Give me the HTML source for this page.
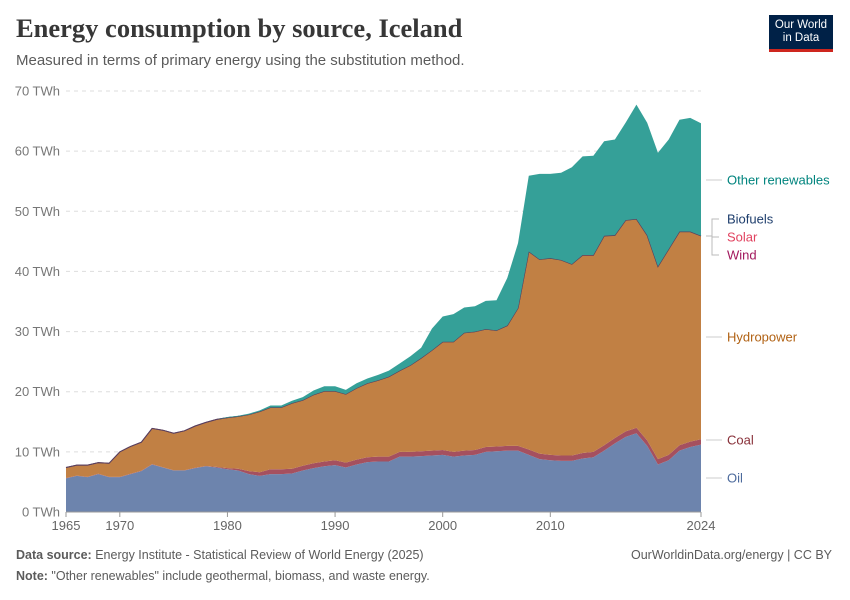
<!DOCTYPE html>
<html><head><meta charset="utf-8">
<style>
body{margin:0;background:#fff;font-family:"Liberation Sans",sans-serif;}
#wrap{position:relative;width:850px;height:600px;overflow:hidden;}
.t{position:absolute;white-space:nowrap;}
</style></head>
<body><div id="wrap">
<div class="t" style="left:16px;top:13px;font-family:'Liberation Serif',serif;font-weight:bold;font-size:26.5px;color:#373737;">Energy consumption by source, Iceland</div>
<div class="t" style="left:16px;top:52px;font-size:15px;color:#5b5b5b;">Measured in terms of primary energy using the substitution method.</div>
<div style="position:absolute;left:769px;top:15px;width:64px;height:37px;background:#002147;border-bottom:3px solid #ce261e;box-sizing:border-box;color:#fff;font-size:11.5px;line-height:13px;text-align:center;padding-top:4px;">Our World<br>in Data</div>
<svg id="chart" width="850" height="600" style="position:absolute;left:0;top:0;"></svg>
<div class="t" style="left:16px;top:548px;font-size:12.5px;color:#5b5b5b;"><b>Data source:</b> Energy Institute - Statistical Review of World Energy (2025)</div>
<div class="t" style="right:18px;top:548px;font-size:12.5px;color:#5b5b5b;">OurWorldinData.org/energy | CC BY</div>
<div class="t" style="left:16px;top:569px;font-size:12.5px;color:#5b5b5b;"><b>Note:</b> "Other renewables" include geothermal, biomass, and waste energy.</div>
</div>
<script>
const years=[];for(let y=1965;y<=2024;y++)years.push(y);
const oil=[5.6,6.0,5.8,6.3,5.8,5.8,6.3,6.8,7.9,7.4,6.9,6.9,7.3,7.6,7.4,7.1,6.9,6.3,6.0,6.3,6.3,6.4,6.9,7.3,7.6,7.8,7.4,7.9,8.3,8.4,8.4,9.2,9.2,9.3,9.4,9.5,9.2,9.4,9.5,10.0,10.1,10.2,10.2,9.5,8.8,8.6,8.5,8.5,8.9,9.1,10.2,11.4,12.5,13.1,11.0,7.9,8.6,10.2,10.8,11.2];
const coal=[0.05,0.05,0.05,0.05,0.05,0.05,0.05,0.05,0.05,0.05,0.05,0.05,0.05,0.05,0.1,0.2,0.3,0.5,0.6,0.8,0.8,0.8,0.8,0.8,0.8,0.8,0.8,0.8,0.8,0.8,0.8,0.8,0.8,0.8,0.8,0.8,0.8,0.8,0.8,0.8,0.8,0.8,0.8,0.9,0.9,0.9,0.9,0.9,0.9,0.9,0.9,0.9,0.9,0.9,0.9,0.9,0.9,0.9,0.9,0.9];
const hydro=[1.75,1.75,1.95,1.85,2.25,4.15,4.55,4.75,5.95,6.15,6.15,6.55,6.95,7.25,7.9,8.4,8.7,9.4,10.1,10.3,10.3,10.9,10.9,11.4,11.7,11.5,11.4,11.9,12.3,12.7,13.3,13.5,14.4,15.5,16.7,18.0,18.3,19.6,19.7,19.6,19.3,20.0,22.9,32.9,32.3,32.7,32.5,31.8,32.9,32.7,34.8,33.7,35.1,34.7,34.1,32.0,34.2,35.5,34.9,33.8];
const wind=[0,0,0,0,0,0,0,0,0,0,0,0,0,0,0,0,0,0,0,0,0,0,0,0,0,0,0,0,0,0,0,0,0,0,0,0,0,0,0,0,0,0,0,0,0,0,0,0,0.01,0.02,0.02,0.02,0.02,0.01,0.01,0.01,0.01,0.01,0.01,0.01];
const solar=[0,0,0,0,0,0,0,0,0,0,0,0,0,0,0,0,0,0,0,0,0,0,0,0,0,0,0,0,0,0,0,0,0,0,0,0,0,0,0,0,0,0,0,0,0,0,0,0,0,0,0,0,0,0,0,0,0,0,0,0];
const biofuels=[0,0,0,0,0,0,0,0,0,0,0,0,0,0,0,0,0,0,0,0,0,0,0,0,0,0,0,0,0,0,0,0,0,0,0,0,0,0,0,0,0,0,0,0.01,0.01,0.01,0.01,0.02,0.02,0.02,0.02,0.02,0.02,0.02,0.02,0.02,0.02,0.02,0.02,0.02];
const other=[0,0,0,0,0,0,0,0,0,0,0,0,0,0,0,0.1,0.1,0.15,0.2,0.3,0.3,0.4,0.5,0.7,0.8,0.8,0.7,0.8,0.8,0.9,1.0,1.2,1.5,1.7,3.6,4.2,4.6,4.2,4.2,4.7,5.0,7.9,10.8,12.6,14.2,14.0,14.5,16.1,16.4,16.5,15.7,15.9,16.2,19.0,18.7,18.9,18.2,18.6,18.9,18.7];
const yTicks=[0,10,20,30,40,50,60,70];
const xTicks=[1965,1970,1980,1990,2000,2010,2024];
const seriesNames=["Oil","Coal","Hydropower","Wind","Solar","Biofuels","Other renewables"];
const seriesData=[oil,coal,hydro,wind,solar,biofuels,other];
const fills=["#6d84ad","#a5505f","#c18044","#a2185d","#e56e5a","#1d3d6c","#35a098"];
const labelColors=["#4c6a9c","#883039","#b16214","#a2185d","#e1425f","#1d3d6c","#00847e"];
const labelY=[478,440,337,255,237,219,180];

const X0=66,X1=701,Y0=512,Y70=91;
const x=yr=>X0+(yr-1965)*(X1-X0)/(2024-1965);
const y=v=>Y0-v*(Y0-Y70)/70;
const svg=document.getElementById('chart');
const NS='http://www.w3.org/2000/svg';
function mk(t,a){const e=document.createElementNS(NS,t);for(const k in a)e.setAttribute(k,a[k]);svg.appendChild(e);return e;}

yTicks.forEach(v=>{
  if(v>0){const g=mk('line',{x1:X0,x2:X1,y1:y(v),y2:y(v),stroke:'#ddd','stroke-dasharray':'4,4'});
  
  }
  const t=mk('text',{x:60,y:y(v)+4.5,'text-anchor':'end','font-size':13,fill:'#777','font-family':'Liberation Sans, sans-serif'});
  t.textContent=v+' TWh';
  
  
});

let base=years.map(()=>0);
seriesData.forEach((s,i)=>{
  const top=base.map((b,j)=>b+s[j]);
  let d='M'+years.map((yr,j)=>x(yr)+','+y(top[j])).join('L');
  for(let j=years.length-1;j>=0;j--)d+='L'+x(years[j])+','+y(base[j]);
  d+='Z';
  const p=mk('path',{d:d,fill:fills[i],stroke:'none'});
  
  
  if(i===2||i===5){
    const l=mk('polyline',{points:years.map((yr,j)=>x(yr)+','+y(top[j])).join(' '),fill:'none',stroke:'#5a3f5e','stroke-width':1});
    
    
  }
  base=top;
});

const ax=mk('line',{x1:X0,x2:X1,y1:Y0,y2:Y0,stroke:'#999'});


xTicks.forEach(yr=>{
  const tk=mk('line',{x1:x(yr),x2:x(yr),y1:Y0,y2:Y0+5,stroke:'#999'});
  
  
  const t=mk('text',{x:x(yr),y:Y0+18,'text-anchor':'middle','font-size':13,fill:'#666','font-family':'Liberation Sans, sans-serif'});
  t.textContent=yr;
  
  
});

seriesNames.forEach((n,i)=>{
  const ly=labelY[i];
  if(i>=3&&i<=5){
    const c=mk('path',{d:'M706,'+y(45.9)+'H712V'+ly+'H719',fill:'none',stroke:'#bbb'});
    
    
  } else {
    const c=mk('line',{x1:706,x2:722,y1:ly,y2:ly,stroke:'#ccc'});
    
    
  }
  const t=mk('text',{x:727,y:ly+4.5,'font-size':13,fill:labelColors[i],'font-family':'Liberation Sans, sans-serif'});
  t.textContent=n;
  
  
});
</script>
</body></html>
